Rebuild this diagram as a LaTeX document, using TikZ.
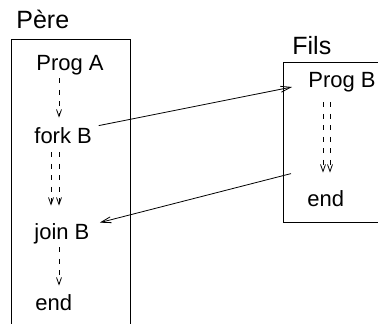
\documentclass[tikz,border=0pt]{standalone}
\usepackage{fontspec}
\setmainfont{Liberation Sans}
\usetikzlibrary{arrows.meta,calc}
\tikzstyle{txt}=[anchor=base west,inner sep=0pt,text height=16pt,text depth=5pt,font=\fontsize{22}{26}\selectfont]
\tikzstyle{title}=[anchor=base west,inner sep=0pt,font=\fontsize{25}{30}\selectfont]
\tikzset{flow/.style={-{Straight Barb[length=7pt,width=5pt]},dash pattern=on 5pt off 6.5pt}}
\tikzset{call/.style={-{Straight Barb[length=10pt,width=6pt]}}}
\tikzset{y=-1pt}
\tikzset{x=1pt}

\begin{document}
\begin{tikzpicture}[line width=.8pt]
  \useasboundingbox (0,0) rectangle (378,324);
  \clip (0,0) rectangle (378,324);

  %% Processus pere
  \draw (16,28) node[title] (pere) {Père};
  \draw (11,39) rectangle (130,340);
  \draw (36,70) node[txt] (progA) {Prog A};
  \draw (34,143) node[txt] (forkB) {fork B};
  \draw (34,239) node[txt] (joinB) {join B};
  \draw (35,310) node[txt] (endA) {end};

  %% Processus fils
  \draw (292,54) node[title] (fils) {Fils};
  \draw (283,62) rectangle (400,222);
  \draw (308,87) node[txt] (progB) {Prog B};
  \draw (307,206) node[txt] (endB) {end};

  \coordinate (colA) at (59,0);
  \coordinate (colA2) at (51,0);
  \coordinate (colB) at (330,0);
  \coordinate (colB2) at (323,0);

  %% Deroulement
  \draw[flow,shorten <=3pt,shorten >=9pt] (progA.south -| colA) -- (forkB.north -| colA);
  \draw[flow,shorten <=4pt,shorten >=17pt] (forkB.south -| colA2) -- (joinB.north -| colA2);
  \draw[flow,shorten <=4pt,shorten >=17pt] (forkB.south -| colA) -- (joinB.north -| colA);
  \draw[flow,shorten <=3pt,shorten >=8pt] (joinB.south -| colA) -- (endA.north -| colA);
  \draw[flow,shorten <=10pt,shorten >=17pt] (progB.south -| colB2) -- (endB.north -| colB2);
  \draw[flow,shorten <=10pt,shorten >=17pt] (progB.south -| colB) -- (endB.north -| colB);

  %% fork et join
  \draw[call] ([xshift=6.5pt,yshift=1pt]forkB.north east) -- ([xshift=-16pt,yshift=-5.5pt]progB.west);
  \draw[call] ([xshift=-16pt,yshift=16pt]endB.north west) -- ([xshift=10pt]joinB.north east);
\end{tikzpicture}
\end{document}
